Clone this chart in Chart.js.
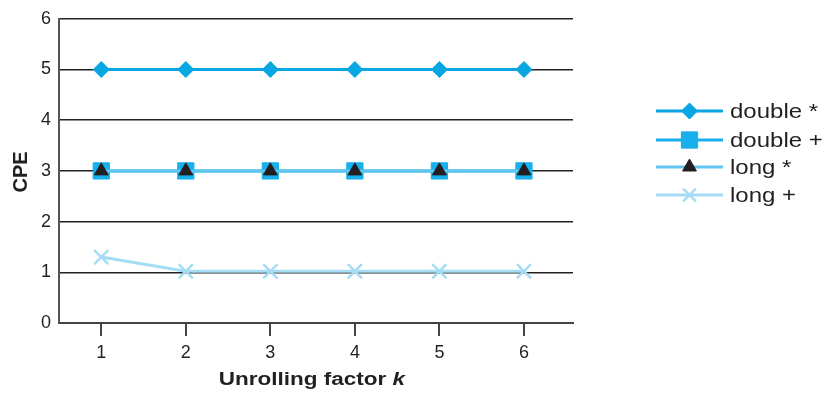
<!DOCTYPE html>
<html>
<head>
<meta charset="utf-8">
<script src="https://cdn.jsdelivr.net/npm/chart.js@4.4.0/dist/chart.umd.min.js"></script>
<style>
  html, body { margin: 0; padding: 0; background: #fff; }
  #wrap { width: 827px; height: 393px; }
</style>
</head>
<body>
<div id="wrap"><canvas id="cpeChart" width="827" height="393"></canvas></div>
<script>
const unrolling = [1, 2, 3, 4, 5, 6];
const doubleMul = [5, 5, 5, 5, 5, 5];
const doubleAdd = [3, 3, 3, 3, 3, 3];
const longMul = [3, 3, 3, 3, 3, 3];
const longAdd = [1.3, 1.02, 1.02, 1.02, 1.02, 1.02];
const yTicks = [0, 1, 2, 3, 4, 5, 6];

const FONT = '"Liberation Sans", Arial, Helvetica, sans-serif';
const TEXT = '#231f20';

function pts(vals) {
    return vals.map((v, i) => ({ x: unrolling[i], y: v }));
}

const datasets = [
    { label: 'double *', data: pts(doubleMul), borderColor: '#08a6e2', backgroundColor: '#08a6e2',
      pointStyle: 'rectRot', pointRadius: 8, order: 3 },
    { label: 'double +', data: pts(doubleAdd), borderColor: '#18b0ec', backgroundColor: '#18b0ec',
      pointStyle: 'rect', pointRadius: 11.5, order: 2 },
    { label: 'long *', data: pts(longMul), borderColor: '#60c6ef', backgroundColor: '#231f20',
      pointStyle: 'triangle', pointRadius: 8, order: 1 },
    { label: 'long +', data: pts(longAdd), borderColor: '#a6dcf4', backgroundColor: '#a6dcf4',
      pointStyle: 'crossRot', pointRadius: 10, pointBorderWidth: 2.5, order: 0 }
];
datasets.forEach(d => {
    d.borderWidth = 3;
    d.pointBorderColor = d.pointStyle === 'crossRot' ? d.borderColor : d.backgroundColor;
    d.pointBackgroundColor = d.backgroundColor;
    if (!d.pointBorderWidth) d.pointBorderWidth = 1;
    d.fill = false;
    d.tension = 0;
});

// draw text stretched sideways (the source face is wider than Liberation)
function wideText(c, txt, x, y, sx) {
    c.save();
    c.translate(x, y);
    c.scale(sx, 1);
    c.fillText(txt, 0, 0);
    c.restore();
}

// legend with line sample + marker, plus axis titles (italic k)
const extras = {
    id: 'extras',
    afterDraw(chart) {
        const c = chart.ctx;
        c.save();
        const x0 = 656, x1 = 723, tx = 730;
        const rows = [111, 140, 167, 195];
        datasets.forEach((d, i) => {
            const y = rows[i];
            c.strokeStyle = d.borderColor;
            c.lineWidth = 3;
            c.beginPath();
            c.moveTo(x0, y);
            c.lineTo(x1, y);
            c.stroke();
            c.fillStyle = d.pointBackgroundColor;
            c.strokeStyle = d.pointBorderColor;
            c.lineWidth = d.pointBorderWidth;
            const r = d.pointStyle === 'crossRot' ? 9 : d.pointRadius;
            Chart.helpers.drawPoint(c, { pointStyle: d.pointStyle, radius: r, borderWidth: d.pointBorderWidth }, (x0 + x1) / 2, y);
            c.fillStyle = TEXT;
            c.font = '20px ' + FONT;
            c.textBaseline = 'middle';
            c.textAlign = 'left';
            wideText(c, d.label, tx, y + 1, 1.2);
        });

        // x axis title
        const t1 = 'Unrolling factor ', t2 = 'k';
        const sx = 1.25;
        c.font = 'bold 18px ' + FONT;
        const w1 = c.measureText(t1).width * sx;
        c.font = 'bold italic 18px ' + FONT;
        const w2 = c.measureText(t2).width * sx;
        const left = 312 - (w1 + w2) / 2;
        c.fillStyle = TEXT;
        c.textBaseline = 'alphabetic';
        c.textAlign = 'left';
        c.font = 'bold 18px ' + FONT;
        wideText(c, t1, left, 385, sx);
        c.font = 'bold italic 18px ' + FONT;
        wideText(c, t2, left + w1, 385, sx);

        // y axis title
        c.translate(21, 172);
        c.rotate(-Math.PI / 2);
        c.font = 'bold 20px ' + FONT;
        c.textAlign = 'center';
        c.textBaseline = 'middle';
        c.fillText('CPE', 0, 0);
        c.restore();
    }
};

new Chart(document.getElementById('cpeChart'), {
    type: 'line',
    data: { datasets: datasets },
    options: {
        responsive: false,
        animation: false,
        layout: { padding: { left: 10, right: 254, top: 18, bottom: 0 } },
        plugins: { legend: { display: false }, tooltip: { enabled: false } },
        scales: {
            x: {
                type: 'linear',
                min: 0.5,
                max: 6.58,
                afterBuildTicks: s => { s.ticks = unrolling.map(v => ({ value: v })); },
                afterFit: s => { s.height = 70; },
                grid: { drawOnChartArea: false, drawTicks: true, tickLength: 13, color: '#444', lineWidth: 2 },
                border: { display: true, color: '#444', width: 2 },
                ticks: { color: TEXT, font: { family: FONT, size: 18 }, padding: 6 }
            },
            y: {
                min: 0,
                max: 6,
                afterBuildTicks: s => { s.ticks = yTicks.map(v => ({ value: v })); },
                afterFit: s => { s.width = 49; },
                grid: { color: '#222', lineWidth: 1.5, drawTicks: false },
                border: { display: true, color: '#555', width: 2 },
                ticks: { color: TEXT, font: { family: FONT, size: 18 }, padding: 8 }
            }
        }
    },
    plugins: [extras]
});
</script>
</body>
</html>
